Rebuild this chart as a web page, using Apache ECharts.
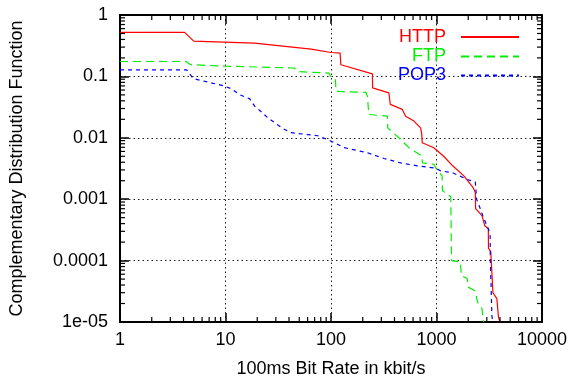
<!DOCTYPE html>
<html>
<head>
<meta charset="utf-8">
<script src="https://cdn.jsdelivr.net/npm/echarts@6/dist/echarts.min.js"></script>
<style>html,body{margin:0;padding:0;background:#fff}#c{width:570px;height:383px}</style>
</head>
<body>
<div id="c"></div>
<script>
const seriesNames = ['HTTP', 'FTP', 'POP3'];
const xTickLabels = ['1', '10', '100', '1000', '10000'];
const yTickLabels = ['1e-05', '0.0001', '0.001', '0.01', '0.1', '1'];
const xAxisTitle = '100ms Bit Rate in kbit/s';
const yAxisTitle = 'Complementary Distribution Function';

const httpX = [1, 4.1, 5.0, 18.8, 65, 100, 122, 124, 247, 248, 354, 365, 474, 510, 611, 707, 725, 733, 944, 1170, 1424, 1819, 2225, 2335, 2350, 2700, 2870, 3100, 3110, 3270, 3430, 3735, 3870, 4000];
const httpY = [0.52, 0.52, 0.375, 0.348, 0.278, 0.245, 0.24, 0.155, 0.11, 0.065, 0.054, 0.035, 0.029, 0.0225, 0.0187, 0.0145, 0.0114, 0.0083, 0.0069, 0.005, 0.0035, 0.0024, 0.00155, 0.00128, 0.0007, 0.00054, 0.00037, 0.00033, 0.00016, 0.00014, 0.00003, 0.000024, 0.000012, 0.00001];

const ftpX = [1, 4.2, 4.7, 10, 45, 48, 96, 100, 110, 112, 214, 222, 228, 343, 345, 440, 548, 640, 733, 735, 944, 1000, 1130, 1140, 1366, 1380, 1390, 1683, 1720, 1953, 2000, 2335, 2450, 2700, 2790];
const ftpY = [0.175, 0.175, 0.155, 0.147, 0.137, 0.12, 0.113, 0.094, 0.088, 0.057, 0.055, 0.047, 0.024, 0.0225, 0.0145, 0.01, 0.0069, 0.0058, 0.005, 0.0039, 0.0037, 0.0031, 0.0024, 0.00137, 0.0011, 0.00023, 0.0001, 0.000095, 0.000057, 0.000051, 0.000037, 0.000032, 0.000021, 0.0000165, 0.00001];

const pop3X = [1, 4.28, 4.96, 6.4, 9.5, 11.4, 13.6, 17, 18.9, 21.8, 25.3, 30.3, 34.9, 41.9, 60.3, 74.9, 93, 134, 222, 318, 458, 657, 980, 1090, 1424, 1953, 2335, 2400, 2577, 2750, 3000, 3100, 3225, 3240, 3300, 3350, 3400];
const pop3Y = [0.128, 0.128, 0.092, 0.083, 0.0707, 0.0627, 0.0505, 0.043, 0.0327, 0.0266, 0.021, 0.0169, 0.0142, 0.0121, 0.0113, 0.0108, 0.0094, 0.0069, 0.0057, 0.0046, 0.0039, 0.0035, 0.0032, 0.0029, 0.0027, 0.0021, 0.0019, 0.001, 0.00073, 0.00054, 0.00037, 0.00033, 0.00026, 0.000095, 0.000035, 0.000013, 0.00001];

const FONT = 'Liberation Sans';
const zip = (xs, ys) => xs.map((x, i) => [x, ys[i]]);

// minor tick values on log axes (2..9 per decade)
function minorTicks(lo, hi) {
  const out = [];
  for (let e = lo; e < hi; e++) for (let k = 2; k <= 9; k++) out.push(k * Math.pow(10, e));
  return out;
}
const xMinor = minorTicks(0, 4);
const yMinor = minorTicks(-5, 0);

const chart = echarts.init(document.getElementById('c'), null, {renderer: 'canvas'});

const axisCommon = {
  type: 'log', logBase: 10,
  axisLine: {show: true, lineStyle: {color: '#000', width: 2}},
  axisTick: {show: true, inside: true, length: 9, lineStyle: {color: '#000', width: 1.5}},
  minorTick: {show: false},
};

const option = {
  animation: false,
  backgroundColor: '#fff',
  grid: {left: 118, right: 28, top: 15, bottom: 60, containLabel: false},
  xAxis: [
    Object.assign({}, axisCommon, {
      position: 'bottom', min: 1, max: 10000,
      axisLabel: {color: '#000', fontFamily: FONT, fontSize: 18, margin: 9,
        formatter: v => xTickLabels[Math.round(Math.log10(v))]},
      splitLine: {show: true, lineStyle: {color: '#222', width: 1, type: [1.5, 3]}},
      name: xAxisTitle, nameLocation: 'middle', nameGap: 38,
      nameTextStyle: {color: '#000', fontFamily: FONT, fontSize: 18}
    }),
    Object.assign({}, axisCommon, {
      position: 'top', min: 1, max: 10000,
      axisLabel: {show: false}, splitLine: {show: false}
    })
  ],
  yAxis: [
    Object.assign({}, axisCommon, {
      position: 'left', min: 0.00001, max: 1,
      axisLabel: {color: '#000', fontFamily: FONT, fontSize: 18, margin: 12,
        formatter: v => yTickLabels[Math.round(Math.log10(v)) + 5]},
      splitLine: {show: true, lineStyle: {color: '#222', width: 1, type: [1.5, 3]}},
      name: yAxisTitle, nameLocation: 'middle', nameGap: 94, nameRotate: 90,
      nameTextStyle: {color: '#000', fontFamily: FONT, fontSize: 18}
    }),
    Object.assign({}, axisCommon, {
      position: 'right', min: 0.00001, max: 1,
      axisLabel: {show: false}, splitLine: {show: false}
    })
  ],
  legend: seriesNames.map((n, i) => ({
    data: [{name: n, textStyle: {color: ['#ff0000', '#00ee00', '#0000ff'][i]}}],
    right: 50, top: [28, 47.5, 66.5][i], padding: 0,
    align: 'right', itemWidth: 58, itemHeight: 14,
    itemStyle: {opacity: 0},
    textStyle: {fontFamily: FONT, fontSize: 18, lineHeight: 18, padding: [0, 10, 0, 0]},
    selectedMode: false
  })),
  series: [
    {name: seriesNames[0], type: 'line', data: zip(httpX, httpY), showSymbol: false, symbol: 'none',
     lineStyle: {color: '#ff0000', width: 1.2}, itemStyle: {color: '#ff0000'}, z: 5},
    {name: seriesNames[1], type: 'line', data: zip(ftpX, ftpY), showSymbol: false, symbol: 'none',
     lineStyle: {color: '#00ee00', width: 1.2, type: [8, 5]}, itemStyle: {color: '#00ee00'}, z: 4},
    {name: seriesNames[2], type: 'line', data: zip(pop3X, pop3Y), showSymbol: false, symbol: 'none',
     lineStyle: {color: '#0000ff', width: 1.2, type: [4, 4]}, itemStyle: {color: '#0000ff'}, z: 6},
    {
      type: 'custom', silent: true, z: 10, data: [[1, 1]],
      renderItem: function (params, api) {
        const cs = params.coordSys;
        const children = [];
        const st = {stroke: '#000', lineWidth: 1.2};
        const L = 5;
        xMinor.forEach(v => {
          const p = api.coord([v, 1]);
          children.push({type: 'line', shape: {x1: p[0], y1: cs.y + cs.height, x2: p[0], y2: cs.y + cs.height - L}, style: st});
          children.push({type: 'line', shape: {x1: p[0], y1: cs.y, x2: p[0], y2: cs.y + L}, style: st});
        });
        yMinor.forEach(v => {
          const p = api.coord([1, v]);
          children.push({type: 'line', shape: {x1: cs.x, y1: p[1], x2: cs.x + L, y2: p[1]}, style: st});
          children.push({type: 'line', shape: {x1: cs.x + cs.width, y1: p[1], x2: cs.x + cs.width - L, y2: p[1]}, style: st});
        });
        return {type: 'group', children: children};
      }
    }
  ]
};
chart.setOption(option);
</script>
</body>
</html>
